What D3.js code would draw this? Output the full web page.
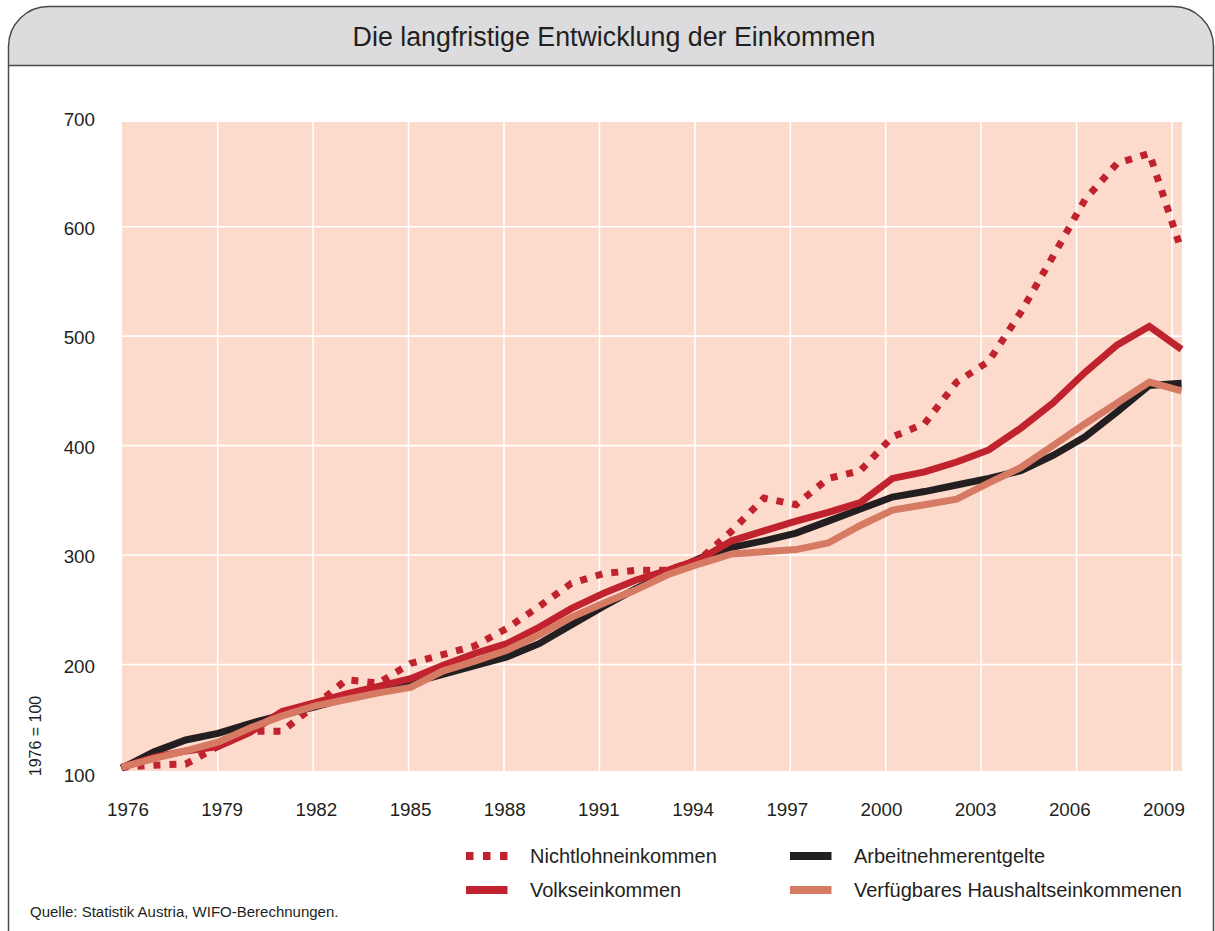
<!DOCTYPE html>
<html>
<head>
<meta charset="utf-8">
<script src="https://cdn.jsdelivr.net/npm/d3@7"></script>
<style>
  html, body { margin: 0; padding: 0; background: #ffffff; }
  svg { display: block; }
  text { font-family: "Liberation Sans", Arial, Helvetica, sans-serif; fill: #231f20; }
</style>
</head>
<body>
<svg id="chart" width="1215" height="931"></svg>
<script>
// ---------------- Data ----------------
const years = [1976,1977,1978,1979,1980,1981,1982,1983,1984,1985,1986,1987,1988,1989,1990,1991,1992,1993,1994,1995,1996,1997,1998,1999,2000,2001,2002,2003,2004,2005,2006,2007,2008,2009];

const nichtlohneinkommen = [106,108,109,125,139,139,162,186,183,201,209,217,233,253,274,283,286,286,296,322,352,346,370,377,408,420,458,477,522,573,625,658,667,578];
const volkseinkommen = [106,115,121,125,138,157,165,173,180,187,199,210,219,234,251,265,277,286,296,313,322,331,339,348,370,376,385,396,416,439,467,492,509,488];
const arbeitnehmerentgelte = [105,120,131,137,146,154,161,169,176,183,191,199,207,219,236,253,269,283,297,307,313,320,331,342,353,358,364,370,377,391,408,431,455,457];
const verfuegbaresHaushaltseinkommen = [106,114,121,129,142,153,162,168,174,179,194,203,213,227,243,256,268,282,292,301,303,305,311,327,341,346,351,366,380,400,420,439,458,450];

const yTicks = [100,200,300,400,500,600,700];
const yGrid = [200,300,400,500,600];
const xTickYears = [1976,1979,1982,1985,1988,1991,1994,1997,2000,2003,2006,2009];
const xGridYears = [1979,1982,1985,1988,1991,1994,1997,2000,2003,2006,2009];

const title = "Die langfristige Entwicklung der Einkommen";
const yAxisTitle = "1976 = 100";
const source = "Quelle: Statistik Austria, WIFO-Berechnungen.";

const seriesNames = ["Nichtlohneinkommen","Volkseinkommen","Arbeitnehmerentgelte","Verfügbares Haushaltseinkommenen"];

// ---------------- Styles ----------------
const C = {
  red: "#c0222e",
  black: "#231f20",
  salmon: "#d67a63",
  bg: "#fcdbcd",
  header: "#dcdcde",
  frame: "#4a4a4a"
};

const series = [
  { name: seriesNames[0], values: nichtlohneinkommen, color: C.red, dash: "7,9", width: 7 },
  { name: seriesNames[2], values: arbeitnehmerentgelte, color: C.black, dash: null, width: 7 },
  { name: seriesNames[1], values: volkseinkommen, color: C.red, dash: null, width: 7 },
  { name: seriesNames[3], values: verfuegbaresHaushaltseinkommen, color: C.salmon, dash: null, width: 7 }
];

const svg = d3.select("#chart");

// ---------------- Frame / header ----------------
const L = 8.5, R = 1213.5, T = 6.5, HB = 65.5, rad = 40;
svg.append("path")
  .attr("d", `M${L},${HB} L${L},${T+rad} A${rad},${rad} 0 0 1 ${L+rad},${T} L${R-rad},${T} A${rad},${rad} 0 0 1 ${R},${T+rad} L${R},${HB} Z`)
  .attr("fill", C.header);
svg.append("path")
  .attr("d", `M${L},935 L${L},${T+rad} A${rad},${rad} 0 0 1 ${L+rad},${T} L${R-rad},${T} A${rad},${rad} 0 0 1 ${R},${T+rad} L${R},935`)
  .attr("fill", "none").attr("stroke", C.frame).attr("stroke-width", 1.5);
svg.append("line").attr("x1", L).attr("x2", R).attr("y1", HB).attr("y2", HB)
  .attr("stroke", C.frame).attr("stroke-width", 1.5);

svg.append("text").attr("x", 614).attr("y", 46).attr("text-anchor", "middle")
  .style("font-size", "26.8px").text(title);

// ---------------- Scales ----------------
const xData = d3.scaleLinear().domain([1976, 2009]).range([121.5, 1181.5]);
const xGrid = d3.scaleLinear().domain([1976, 2009]).range([122.3, 1172]);
const xLabel = d3.scaleLinear().domain([1976, 2009]).range([128, 1164]);
const y = d3.scaleLinear().domain([100, 700]).range([773.9, 117.3]);

const plotLeft = 122, plotRight = 1182, plotTop = 122, plotBottom = 771;

svg.append("rect").attr("x", plotLeft).attr("y", plotTop)
  .attr("width", plotRight - plotLeft).attr("height", plotBottom - plotTop)
  .attr("fill", C.bg);

const grid = svg.append("g");
grid.selectAll("line.h").data(yGrid).join("line")
  .attr("x1", plotLeft).attr("x2", plotRight)
  .attr("y1", d => y(d)).attr("y2", d => y(d))
  .attr("stroke", "#ffffff").attr("stroke-width", 1.6);
grid.selectAll("line.v").data(xGridYears).join("line")
  .attr("x1", d => xGrid(d)).attr("x2", d => xGrid(d))
  .attr("y1", plotTop).attr("y2", plotBottom)
  .attr("stroke", "#ffffff").attr("stroke-width", 1.6);

// ---------------- Axes labels ----------------
svg.append("g").selectAll("text").data(yTicks).join("text")
  .attr("x", 95).attr("y", d => y(d) + 1.5).attr("dy", "0.36em")
  .attr("text-anchor", "end").style("font-size", "18.8px").text(d => d);

svg.append("g").selectAll("text").data(xTickYears).join("text")
  .attr("x", d => xLabel(d)).attr("y", 816)
  .attr("text-anchor", "middle").style("font-size", "18.8px").text(d => d);

svg.append("text").attr("transform", "translate(41,736) rotate(-90)")
  .attr("text-anchor", "middle").style("font-size", "16px").text(yAxisTitle);

// ---------------- Lines ----------------
const line = d3.line().x((d, i) => xData(years[i])).y(d => y(d));
const lines = svg.append("g");
series.forEach(s => {
  lines.append("path").datum(s.values)
    .attr("d", line)
    .attr("fill", "none")
    .attr("stroke", s.color)
    .attr("stroke-width", s.width)
    .attr("stroke-linejoin", "miter")
    .attr("stroke-miterlimit", 4)
    .attr("stroke-dasharray", s.dash);
});

// ---------------- Legend ----------------
const legendItems = [
  { name: seriesNames[0], color: C.red, dash: "7.5,9.5", x: 466, y: 856 },
  { name: seriesNames[1], color: C.red, dash: null, x: 466, y: 890 },
  { name: seriesNames[2], color: C.black, dash: null, x: 790, y: 856 },
  { name: seriesNames[3], color: C.salmon, dash: null, x: 790, y: 890 }
];
const lg = svg.append("g");
legendItems.forEach(it => {
  lg.append("line").attr("x1", it.x).attr("x2", it.x + 41.5)
    .attr("y1", it.y).attr("y2", it.y)
    .attr("stroke", it.color).attr("stroke-width", 8)
    .attr("stroke-dasharray", it.dash);
  lg.append("text").attr("x", it.x + 64).attr("y", it.y + 7)
    .style("font-size", "20px").text(it.name);
});

svg.append("text").attr("x", 30).attr("y", 917)
  .style("font-size", "15px").text(source);
</script>
</body>
</html>
